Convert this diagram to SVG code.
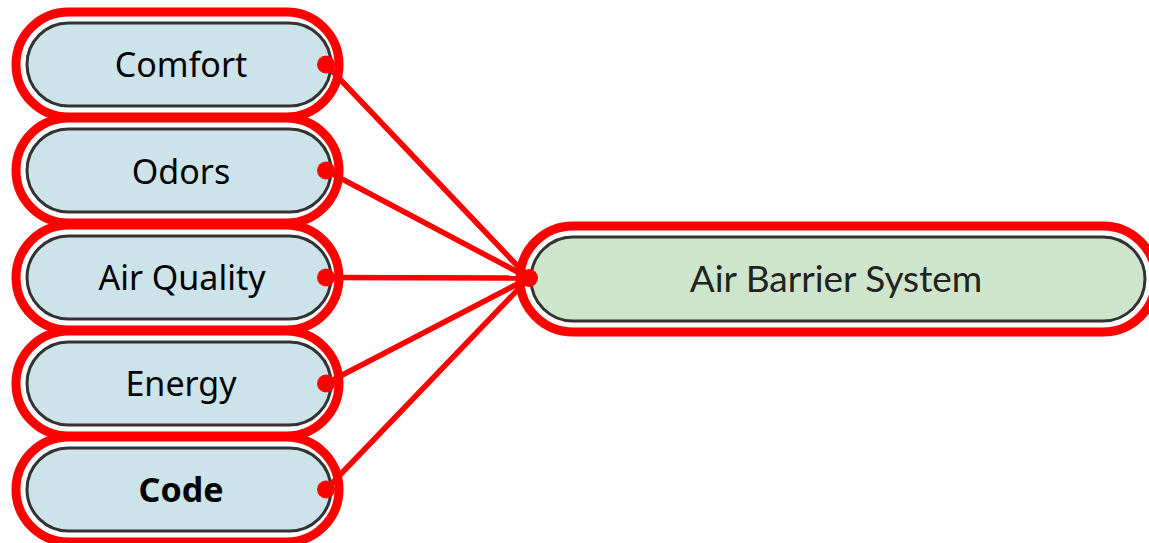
<svg xmlns="http://www.w3.org/2000/svg" width="1149" height="543" viewBox="0 0 1149 543">
<style>
.ring{fill:none;stroke:#ff0000;stroke-width:9}
.pill{fill:#cbe3e9;stroke:#333;stroke-width:3}
.pillg{fill:#cde5cb;stroke:#333;stroke-width:3}
.lbl{font-family:"Noto Sans","Open Sans",sans-serif;font-size:34px;fill:#000;text-anchor:middle}
.lblr{font-family:Lato,"Noto Sans",sans-serif;font-size:37px;fill:#222;text-anchor:middle}
.dot{fill:#ff0000}
.conn{stroke:#ff0000;stroke-width:5.5;fill:none}
</style>
<rect width="1149" height="543" fill="#fff"/>
<g id="n-comfort">
<rect class="ring" x="16" y="12" width="323" height="105" rx="52.5"/>
<rect class="pill" x="27" y="23" width="304" height="83" rx="41.5"/>
<text class="lbl" x="181" y="77">Comfort</text>
</g>
<g id="n-odors">
<rect class="ring" x="16" y="118" width="323" height="105" rx="52.5"/>
<rect class="pill" x="27" y="129" width="304" height="83" rx="41.5"/>
<text class="lbl" x="181" y="184">Odors</text>
</g>
<g id="n-airquality">
<rect class="ring" x="16" y="225" width="323" height="105" rx="52.5"/>
<rect class="pill" x="27" y="236" width="304" height="83" rx="41.5"/>
<text class="lbl" x="182" y="290">Air Quality</text>
</g>
<g id="n-energy">
<rect class="ring" x="16" y="331" width="323" height="105" rx="52.5"/>
<rect class="pill" x="27" y="342" width="304" height="83" rx="41.5"/>
<text class="lbl" x="181" y="396">Energy</text>
</g>
<g id="n-code">
<rect class="ring" x="16" y="437" width="323" height="105" rx="52.5"/>
<rect class="pill" x="27" y="448" width="304" height="83" rx="41.5"/>
<text class="lbl" x="181" y="502" font-weight="bold">Code</text>
</g>
<g id="n-airbarrier">
<rect class="ring" x="520" y="226" width="636" height="106" rx="53"/>
<rect class="pillg" x="531" y="237" width="614" height="84" rx="42"/>
<text class="lblr" x="836" y="292">Air Barrier System</text>
</g>
<g id="connectors">
<line class="conn" x1="326" y1="64.5" x2="529" y2="278"/>
<line class="conn" x1="326" y1="170.5" x2="529" y2="278"/>
<line class="conn" x1="326" y1="277.5" x2="529" y2="278"/>
<line class="conn" x1="326" y1="383.5" x2="529" y2="278"/>
<line class="conn" x1="326" y1="489.5" x2="529" y2="278"/>
<circle class="dot" cx="326" cy="64.5" r="9"/>
<circle class="dot" cx="326" cy="170.5" r="9"/>
<circle class="dot" cx="326" cy="277.5" r="9"/>
<circle class="dot" cx="326" cy="383.5" r="9"/>
<circle class="dot" cx="326" cy="489.5" r="9"/>
<circle class="dot" cx="529" cy="278" r="9"/>
</g>
</svg>
